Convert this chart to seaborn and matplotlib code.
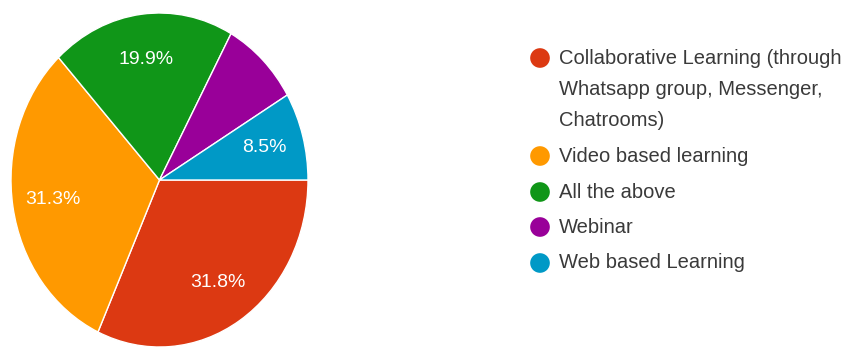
import matplotlib
matplotlib.use("Agg")
import matplotlib.pyplot as plt
import seaborn as sns

# Survey responses: preferred mode of online learning
categories = [
    "Collaborative Learning (through\nWhatsapp group, Messenger,\nChatrooms)",
    "Video based learning",
    "All the above",
    "Webinar",
    "Web based Learning",
]
shares = [31.8, 31.3, 19.9, 8.5, 8.5]
show_pct = [True, True, True, False, True]
colors = ["#DC3912", "#FF9900", "#109618", "#990099", "#0099C6"]

sns.set_theme(style="white")
plt.rcParams["font.family"] = ["Liberation Sans", "DejaVu Sans"]

W, H = 843, 347
fig = plt.figure(figsize=(W / 100, H / 100), dpi=100)
fig.patch.set_facecolor("white")

# Pie axes (stretched slightly taller than wide)
ax = fig.add_axes([11 / W, 0 / H, 297 / W, 334 / H])
wedges, texts, autotexts = ax.pie(
    shares,
    colors=colors,
    startangle=0,
    counterclock=False,
    radius=1.0,
    autopct="%.1f%%",
    pctdistance=0.73,
    wedgeprops=dict(edgecolor="white", linewidth=1.0),
    textprops=dict(color="white", fontsize=14),
)
for t, s in zip(autotexts, show_pct):
    t.set_visible(s)
ax.set_aspect("auto")
ax.set_xlim(-1.0, 1.0)
ax.set_ylim(-1.0, 1.0)
ax.axis("off")

# Legend drawn in pixel coordinates
lg = fig.add_axes([0, 0, 1, 1])
lg.set_xlim(0, W)
lg.set_ylim(H, 0)
lg.axis("off")
row_y = [58, 156, 192, 227, 263]
line_gap = 31
for name, c, y in zip(categories, colors, row_y):
    lg.scatter([540], [y], s=200, color=c, edgecolor="none")
    for k, line in enumerate(name.split("\n")):
        lg.text(559, y + k * line_gap, line, fontsize=14.5, color="#3a3a3a",
                va="center", ha="left")

fig.savefig("out.png", dpi=100, facecolor="white")
